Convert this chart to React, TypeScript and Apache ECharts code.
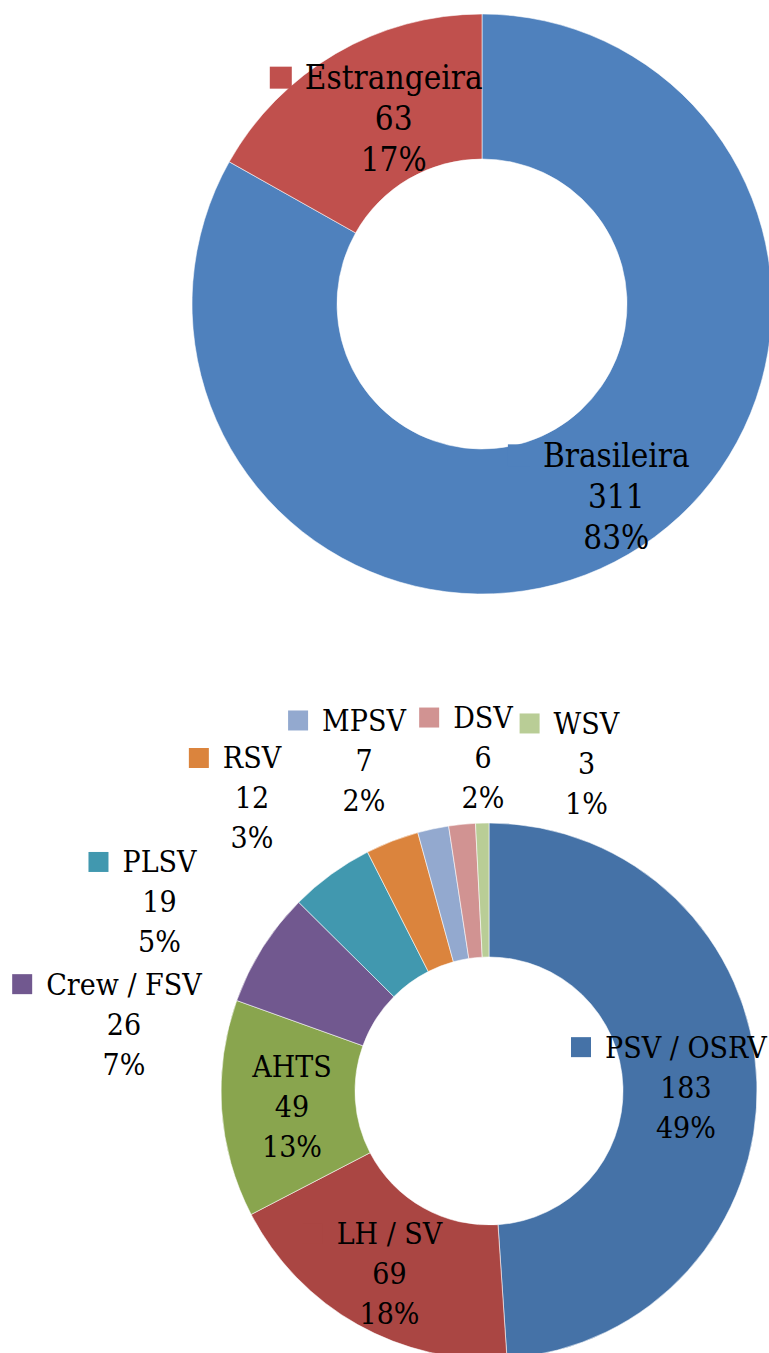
import React, { useEffect, useRef } from 'react';
import * as echarts from 'echarts';

// Top chart: vessels by flag
const nationCategories = ['Brasileira', 'Estrangeira'];
const nationValues = [311, 63];

// Bottom chart: vessels by type
const typeCategories = ['PSV / OSRV', 'LH / SV', 'AHTS', 'Crew / FSV', 'PLSV', 'RSV', 'MPSV', 'DSV', 'WSV'];
const typeValues = [183, 69, 49, 26, 19, 12, 7, 6, 3];

// Styles
const nationColors = ['#4F81BD', '#C0504D'];
const typeColors = ['#4572A7', '#AA4643', '#89A54E', '#71588F', '#4198AF', '#DB843D', '#93A9CF', '#D19392', '#B9CD96'];
const nationKeyHidden = [false, false];
const typeKeyHidden = [false, false, true, false, false, false, false, false, false];

// Label shifts (dx, dy) relative to the library's default inside position
const nationLabelShift = [[23, 2], [23, 5]];
const typeLabelShift = [
  [-7, 3], [0.5, 5], [6.5, 2.3], [-192.5, 42], [-209.3, -24.2],
  [-163.3, -102.8], [-82.5, -131], [14.5, -130.5], [102.6, -123.6],
];

const FONT = '"DejaVu Serif Condensed", "DejaVu Serif", serif';

function donut(
  names: string[], values: number[], colors: string[], keyHidden: boolean[], shifts: number[][],
  center: number[], radius: number[], font: number, lineH: number, mark: number, gap: number,
) {
  const txt = { fontSize: font, lineHeight: lineH, fontFamily: FONT, color: '#000' };
  const rich: any = {
    g: { width: gap, height: mark, lineHeight: lineH },
    s: { width: mark + gap, height: mark, lineHeight: lineH },
    n: txt,
    v: txt,
  };
  colors.forEach((c, i) => {
    rich['m' + i] = {
      width: mark, height: mark, lineHeight: lineH,
      backgroundColor: keyHidden[i] ? 'transparent' : c,
    };
  });
  return {
    type: 'pie',
    center,
    radius,
    startAngle: 90,
    clockwise: true,
    avoidLabelOverlap: false,
    silent: true,
    data: names.map((n, i) => ({ name: n, value: values[i], itemStyle: { color: colors[i] } })),
    itemStyle: { borderColor: 'rgba(255,255,255,0.55)', borderWidth: 1 },
    label: {
      show: true,
      position: 'inside',
      formatter: (p: any) =>
        `{m${p.dataIndex}|}{g|}{n|${p.name}}{s|}\n{v|${p.value}}\n{v|${Math.round(p.percent)}%}`,
      rich,
      ...txt,
      align: 'center',
    },
    labelLine: { show: false },
    labelLayout: (params: any) => ({
      dx: shifts[params.dataIndex][0],
      dy: shifts[params.dataIndex][1],
    }),
    emphasis: { disabled: true },
  };
}

export default function App() {
  const ref = useRef<HTMLDivElement>(null);
  useEffect(() => {
    if (!ref.current) return;
    const chart = echarts.init(ref.current, undefined, { renderer: 'svg' });
    chart.setOption({
      animation: false,
      backgroundColor: '#ffffff',
      series: [
        donut(nationCategories, nationValues, nationColors, nationKeyHidden, nationLabelShift,
          [482, 304], [145, 290], 33, 41, 22, 13),
        donut(typeCategories, typeValues, typeColors, typeKeyHidden, typeLabelShift,
          [489, 1091], [134, 268], 30, 40, 20, 14),
      ],
    });
    return () => chart.dispose();
  }, []);
  return (
    <div
      ref={ref}
      style={{ position: 'absolute', left: 0, top: 0, width: 769, height: 1353 }}
    />
  );
}
